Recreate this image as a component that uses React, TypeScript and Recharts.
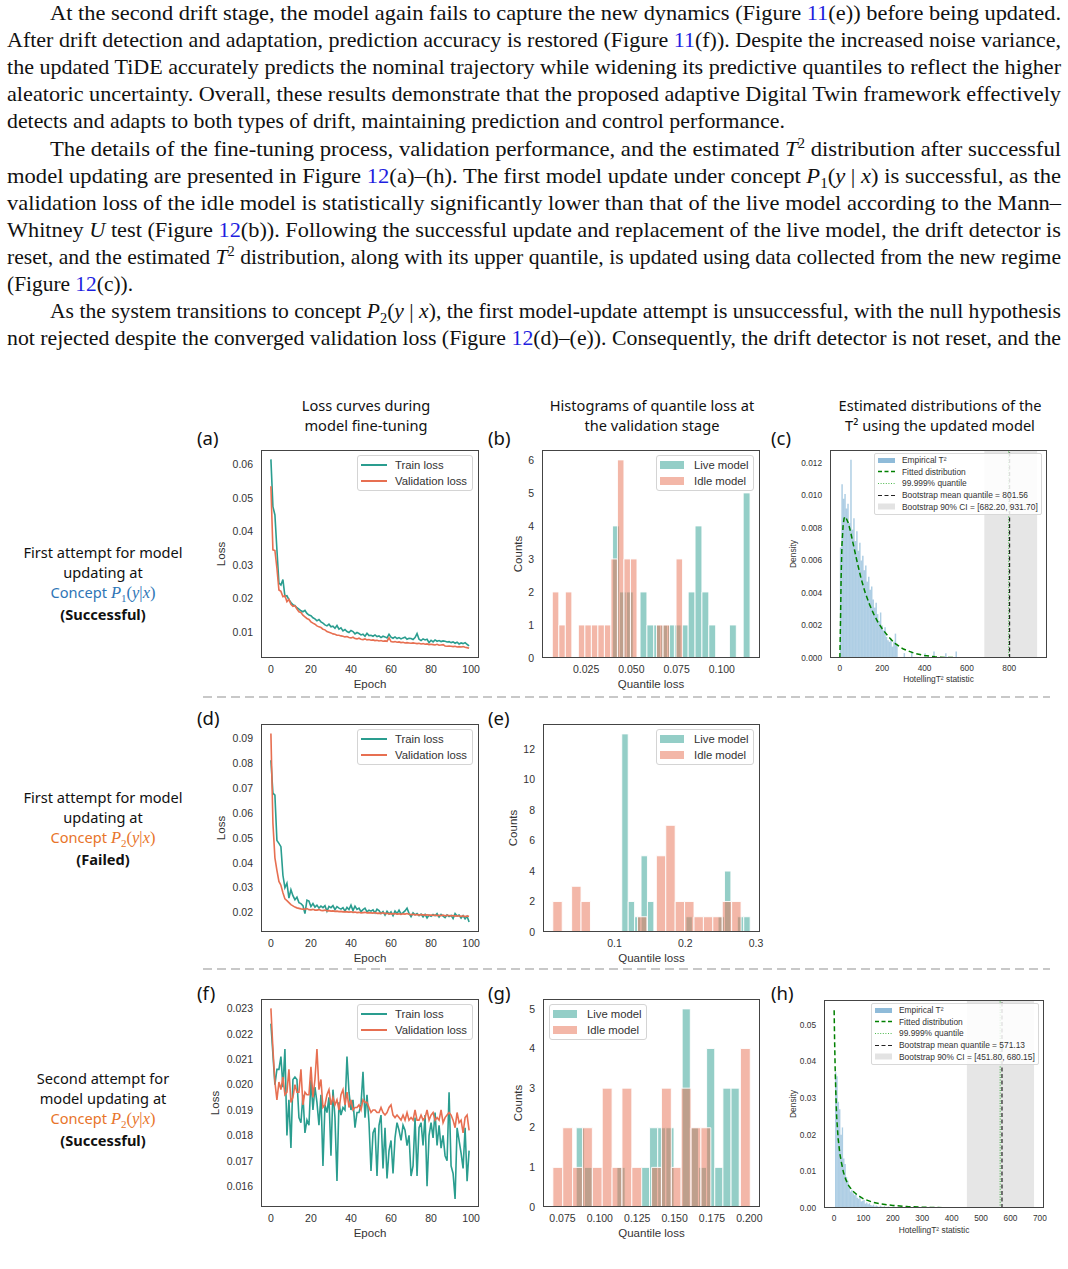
import React from "react";
import { ComposedChart, Line, XAxis, YAxis, ReferenceArea, ReferenceLine, Label } from "recharts";

const SANS = "'Liberation Sans', Arial, sans-serif";
const UI = "'Noto Sans', 'Open Sans', sans-serif";
const SERIF = "'Liberation Serif', 'Times New Roman', serif";
const TEAL = "#2a9d8f";
const ORANGE = "#e76f51";

const epochs = Array.from({ length: 100 }, (_, i) => i);

// (a) first update, concept P1
const trainA = [
  0.0615, 0.0474, 0.0449, 0.0345, 0.0246, 0.024, 0.0256, 0.0206, 0.0208, 0.0196,
  0.0188, 0.0181, 0.0178, 0.0172, 0.0168, 0.0163, 0.016, 0.0164, 0.0155, 0.015,
  0.0148, 0.0142, 0.0139, 0.0133, 0.0137, 0.013, 0.0126, 0.0121, 0.0118, 0.0123,
  0.0115, 0.0117, 0.0111, 0.0119, 0.0108, 0.0112, 0.0103, 0.0107, 0.0101, 0.0098,
  0.0104, 0.0101, 0.0094, 0.0098, 0.0095, 0.0091, 0.0093, 0.0087, 0.0096, 0.0089,
  0.009, 0.0087, 0.0091, 0.0086, 0.0088, 0.0083, 0.0087, 0.0085, 0.0082, 0.0093,
  0.0084, 0.0081, 0.0085, 0.008, 0.0083, 0.0079, 0.0082, 0.0084, 0.0078, 0.0081,
  0.008, 0.0077, 0.0083, 0.0095, 0.0078, 0.0074, 0.0079, 0.0076, 0.0078, 0.0068,
  0.0075, 0.007, 0.0076, 0.0072, 0.0074, 0.0071, 0.0073, 0.0072, 0.007, 0.0071,
  0.0068, 0.007, 0.0066, 0.0069, 0.0064, 0.0067, 0.0065, 0.0068, 0.0063, 0.0058,
];
const valA = [
  0.0535, 0.0345, 0.0343, 0.029, 0.0225, 0.0221, 0.0205, 0.0208, 0.019, 0.0197,
  0.0182, 0.0176, 0.0178, 0.0168, 0.016, 0.0158, 0.015, 0.0145, 0.014, 0.0137,
  0.013, 0.0126, 0.0123, 0.0118, 0.0115, 0.0113, 0.0108, 0.0106, 0.0101, 0.0099,
  0.0097, 0.0094, 0.0093, 0.009, 0.009, 0.0088, 0.0087, 0.0085, 0.0086, 0.0083,
  0.0082, 0.0084, 0.008, 0.0079, 0.0081, 0.0078, 0.0077, 0.0079, 0.0076, 0.0077,
  0.0075, 0.0076, 0.0074, 0.0075, 0.0073, 0.0074, 0.0072, 0.0073, 0.0072, 0.0082,
  0.0071, 0.007, 0.0071, 0.0069, 0.007, 0.0068, 0.0069, 0.0067, 0.0068, 0.0067,
  0.0066, 0.0067, 0.0066, 0.0065, 0.0066, 0.0064, 0.0065, 0.0063, 0.0064, 0.0062,
  0.0063, 0.0062, 0.0061, 0.0063, 0.006, 0.0061, 0.0062, 0.0058, 0.0057, 0.0058,
  0.0057, 0.0056, 0.0057, 0.0055, 0.0056, 0.0055, 0.0056, 0.0054, 0.0053, 0.0051,
];

// (d) first attempt, concept P2
const trainD = [
  0.0812, 0.068, 0.0672, 0.049, 0.0478, 0.0465, 0.035, 0.03, 0.0318, 0.0258,
  0.0292, 0.0268, 0.0252, 0.0262, 0.024, 0.0236, 0.0228, 0.0196, 0.025, 0.0246,
  0.0224, 0.0236, 0.0222, 0.023, 0.0218, 0.0226, 0.022, 0.0228, 0.0205, 0.0225,
  0.022, 0.0228, 0.0212, 0.0224, 0.0218, 0.0214, 0.022, 0.0206, 0.0221, 0.0212,
  0.023, 0.0208, 0.0226, 0.0213, 0.0218, 0.0204, 0.0212, 0.0218, 0.0203, 0.021,
  0.0206, 0.0211, 0.0199, 0.0214, 0.0208, 0.0196, 0.0204, 0.019, 0.0205, 0.0194,
  0.0203, 0.0188, 0.0206, 0.0196, 0.021, 0.0194, 0.02, 0.0207, 0.0218, 0.0197,
  0.0184, 0.0199, 0.0191, 0.0196, 0.0188, 0.0194, 0.0183, 0.0193, 0.0178, 0.019,
  0.0185, 0.0192, 0.0187, 0.0196, 0.0182, 0.0193, 0.0186, 0.018, 0.0191, 0.0184,
  0.0189, 0.0176, 0.0196, 0.0186, 0.019, 0.0178, 0.0188, 0.0175, 0.0185, 0.0162,
];
const valD = [
  0.092, 0.056, 0.042, 0.037, 0.0325, 0.031, 0.028, 0.0255, 0.0248, 0.024,
  0.0232, 0.0227, 0.0222, 0.0219, 0.0217, 0.0215, 0.0214, 0.0213, 0.0216, 0.0212,
  0.0211, 0.0213, 0.021, 0.021, 0.0212, 0.0209, 0.0208, 0.021, 0.0207, 0.0208,
  0.0206, 0.0207, 0.0205, 0.0206, 0.0204, 0.0205, 0.0203, 0.0204, 0.0203, 0.0202,
  0.0203, 0.0201, 0.0202, 0.02, 0.0201, 0.0199, 0.02, 0.0201, 0.0199, 0.02,
  0.0199, 0.0198, 0.02, 0.0197, 0.0198, 0.0197, 0.0199, 0.0196, 0.0197, 0.0195,
  0.0196, 0.0195, 0.0196, 0.0194, 0.0195, 0.0193, 0.0195, 0.0194, 0.0196, 0.0193,
  0.0192, 0.0193, 0.0191, 0.0192, 0.019, 0.0192, 0.0191, 0.019, 0.0191, 0.0189,
  0.019, 0.0189, 0.019, 0.0188, 0.0189, 0.0188, 0.019, 0.0187, 0.0189, 0.0188,
  0.0187, 0.0188, 0.0186, 0.0187, 0.0186, 0.0185, 0.0187, 0.0184, 0.0186, 0.0185,
];

// (f) second attempt, concept P2
const trainF = [
  0.0224, 0.0212, 0.02, 0.0206, 0.0206, 0.0211, 0.0199, 0.0214, 0.018, 0.0194,
  0.0175, 0.0202, 0.0203, 0.0202, 0.0187, 0.0185, 0.0196, 0.0181, 0.0186, 0.0184,
  0.0202, 0.019, 0.0199, 0.0193, 0.0184, 0.0196, 0.0168, 0.0192, 0.0189, 0.0195,
  0.0172, 0.0198, 0.0187, 0.0162, 0.0193, 0.0188, 0.0191, 0.019, 0.0211, 0.0197,
  0.019, 0.0194, 0.0183, 0.0189, 0.0189, 0.0192, 0.0205, 0.0187, 0.0196, 0.0185,
  0.0166, 0.0181, 0.0183, 0.0164, 0.0184, 0.0188, 0.0167, 0.0183, 0.0163, 0.0174,
  0.0178, 0.0165, 0.0179, 0.0185, 0.0182, 0.0178, 0.0184, 0.0182, 0.0176, 0.018,
  0.0164, 0.0168, 0.0187, 0.0164, 0.0183, 0.0185, 0.0176, 0.0188, 0.016, 0.018,
  0.0185, 0.0179, 0.0189, 0.0176, 0.0184, 0.0175, 0.018, 0.0172, 0.017, 0.0197,
  0.0168, 0.0165, 0.0155, 0.0183, 0.0178, 0.0173, 0.0167, 0.0183, 0.0162, 0.0174,
];
const valF = [
  0.023, 0.0214, 0.0201, 0.0194, 0.0201, 0.0198, 0.0203, 0.0196, 0.0197, 0.0206,
  0.0193, 0.0195, 0.02, 0.0197, 0.0197, 0.0206, 0.0192, 0.0197, 0.0196, 0.0196,
  0.0207, 0.0195, 0.0202, 0.0214, 0.0198, 0.0202, 0.0191, 0.0192, 0.0196, 0.0198,
  0.0192, 0.0195, 0.0192, 0.0194, 0.019, 0.0196, 0.0198, 0.0192, 0.0197, 0.0191,
  0.0194, 0.019, 0.0191, 0.0191, 0.0192, 0.019, 0.0194, 0.0193, 0.0193, 0.0191,
  0.0189, 0.019, 0.019, 0.0189, 0.0189, 0.0191, 0.0189, 0.0188, 0.0189, 0.0191,
  0.0192, 0.0188, 0.0187, 0.0188, 0.0187, 0.0186, 0.0188, 0.0186, 0.0189, 0.0186,
  0.0187, 0.0186, 0.019, 0.0186, 0.0186, 0.0188, 0.0186, 0.0187, 0.019, 0.0186,
  0.0188, 0.0189, 0.0186, 0.0187, 0.0186, 0.019, 0.0185, 0.0187, 0.0188, 0.0189,
  0.0188, 0.0186, 0.0183, 0.0189, 0.0185, 0.0186, 0.0181, 0.0187, 0.0188, 0.0182,
];

// quantile-loss histograms: first bin edge, bin width, counts
const liveB = { start: 0.0396, width: 0.0038, counts: [4, 2, 2, 0, 2, 1, 1, 1, 1, 1, 1, 2, 4, 2, 1, 0, 0, 1, 0, 5] };
const idleB = { start: 0.0063, width: 0.0036, counts: [2, 1, 2, 0, 1, 1, 1, 1, 1, 3, 6, 3, 3, 0, 0, 0, 1, 1, 0, 3] };
const liveE = { start: 0.1103, width: 0.00907, counts: [13, 2, 1, 5, 2, 0, 0, 0, 0, 0, 1, 0, 0, 0, 0, 1, 4, 0, 1, 1] };
const idleE = { start: 0.01285, width: 0.0133, counts: [2, 0, 3, 2, 0, 0, 0, 0, 0, 1, 0, 5, 7, 2, 2, 1, 1, 1, 2, 2] };
const liveG = { start: 0.0842, width: 0.00545, counts: [2, 1, 0, 0, 0, 1, 0, 0, 1, 2, 2, 2, 0, 5, 2, 1, 4, 1, 3, 3] };
const idleG = { start: 0.0686, width: 0.0066, counts: [1, 2, 1, 2, 1, 3, 1, 3, 1, 0, 1, 3, 1, 3, 2, 2, 0, 0, 0, 4] };

// T2 density histograms
const tsqC = {
  start: 0,
  width: 7,
  counts: [
    0.0068, 0.0107, 0.0098, 0.0101, 0.0092, 0.0095, 0.0083, 0.0122, 0.0079, 0.0086,
    0.0072, 0.0078, 0.0066, 0.0071, 0.006, 0.0063, 0.0054, 0.0057, 0.0047, 0.005,
    0.0042, 0.0044, 0.0036, 0.0031, 0.0034, 0.0027, 0.0023, 0.0028, 0.002, 0.0017,
    0.0019, 0.0013, 0.0011, 0.001, 0.0012, 0.0007, 0.001, 0.0015, 0.0009, 0,
    0, 0, 0, 0.0003, 0, 0, 0, 0, 0.0004, 0,
    0, 0, 0, 0, 0, 0, 0, 0.0003, 0, 0,
    0, 0, 0, 0.0004, 0, 0, 0, 0, 0, 0,
    0, 0.0003, 0, 0, 0, 0, 0, 0, 0.0004, 0,
  ],
};
const tsqH = {
  start: 3.4,
  width: 4.6,
  counts: [
    0.0371, 0.036, 0.029, 0.027, 0.02, 0.022, 0.0135, 0.012, 0.0085, 0.0075,
    0.006, 0.0045, 0.005, 0.004, 0.0035, 0.0038, 0.0028, 0.0025, 0.003, 0.0018,
    0.002, 0.0022, 0.0012, 0.0015, 0.001, 0.0013, 0.0008, 0.0006, 0.0009, 0.0004,
    0.0007, 0.0005, 0.0003, 0.0006, 0.0004, 0.0002, 0.0005, 0.0003, 0, 0.0004,
    0, 0.0003, 0, 0.0005, 0, 0, 0.0003, 0, 0.0004, 0,
    0, 0.0003, 0, 0, 0.0004, 0, 0, 0, 0.0003, 0,
    0, 0, 0.0003, 0, 0, 0, 0.0002, 0, 0, 0,
    0.0003, 0, 0, 0, 0, 0.0002, 0, 0, 0, 0,
    0, 0.0002, 0, 0, 0, 0.0002,
  ],
};

// fitted densities
const fitCx = [0, 3, 6, 10, 15, 20, 25, 30, 40, 50, 60, 80, 100, 120, 140, 160, 180, 200, 230, 260, 300, 350, 400, 450, 500, 600, 680];
const fitCy = [0, 0.0022, 0.005, 0.007, 0.0081, 0.0086, 0.0087, 0.0086, 0.0083, 0.0078, 0.0072, 0.006, 0.0049, 0.004, 0.0033, 0.0027, 0.0022, 0.0018, 0.0013, 0.0009, 0.00055, 0.0003, 0.00015, 0.00007, 0.00003, 0.00001, 0];
const fitHx = [0.5, 2, 4, 6, 9, 14, 20, 25, 32, 40, 50, 63, 80, 100, 130, 160, 200, 250, 300, 350, 420];
const fitHy = [0.054, 0.046, 0.038, 0.032, 0.025, 0.019, 0.0148, 0.0125, 0.0098, 0.0078, 0.0061, 0.0047, 0.0035, 0.0025, 0.0016, 0.0011, 0.0007, 0.0004, 0.00022, 0.00012, 0.00005];

const statsC = { quantile: 797, mean: 801.56, ciLow: 682.2, ciHigh: 931.7 };
const statsH = { quantile: 565, mean: 571.13, ciLow: 451.8, ciHigh: 680.15 };

const lossLegend = ["Train loss", "Validation loss"];
const histLegend = ["Live model", "Idle model"];
const tsqLegendC = ["Empirical T²", "Fitted distribution", "99.999% quantile", "Bootstrap mean quantile = 801.56", "Bootstrap 90% CI = [682.20, 931.70]"];
const tsqLegendH = ["Empirical T²", "Fitted distribution", "99.999% quantile", "Bootstrap mean quantile = 571.13", "Bootstrap 90% CI = [451.80, 680.15]"];

type Box = { x: number; y: number; w: number; h: number };
type Hist = { start: number; width: number; counts: number[] };

const lossRows = (tr: number[], va: number[]) => epochs.map((e, i) => ({ x: e, train: tr[i], val: va[i] }));
const curveRows = (xs: number[], ys: number[]) => xs.map((x, i) => ({ x, y: ys[i] }));

function bars(h: Hist, color: string, opacity: number, sw: number, key: string) {
  return h.counts.map((c, i) =>
    c > 0 ? (
      <ReferenceArea
        key={key + i}
        x1={h.start + i * h.width}
        x2={h.start + (i + 1) * h.width}
        y1={0}
        y2={c}
        fill={color}
        fillOpacity={opacity}
        stroke={sw > 0 ? "#fff" : "none"}
        strokeWidth={sw}
        strokeOpacity={1}
        ifOverflow="visible"
      />
    ) : null
  );
}

function Plot(props: any) {
  const { box, data, xDomain, yDomain, xTicks, yTicks, xFmt, yFmt, fs, xLabel, yLabel, xLabelY, yLabelX, xMargin, children } = props;
  const yw = 60;
  const xh = 40;
  const pad = 6;
  const tick = { fontSize: fs, fill: "#333", fontFamily: SANS };
  const lab = fs > 9 ? 11.5 : 8.4;
  return (
    <div style={{ position: "absolute", left: box.x - yw, top: box.y - pad }}>
      <ComposedChart width={box.w + yw + pad} height={box.h + pad + xh} data={data} margin={{ top: pad, right: pad, bottom: 0, left: 0 }}>
        <XAxis type="number" dataKey="x" domain={xDomain} ticks={xTicks} tickFormatter={xFmt} allowDataOverflow interval={0}
          axisLine={false} tickLine={false} tickSize={0} tickMargin={xMargin} height={xh} tick={tick}>
          <Label value={xLabel} position="center" dy={xLabelY - (box.y + box.h + xh / 2)} fontSize={lab} fill="#333" fontFamily={SANS} />
        </XAxis>
        <YAxis type="number" domain={yDomain} ticks={yTicks} tickFormatter={yFmt} allowDataOverflow interval={0}
          axisLine={false} tickLine={false} tickSize={0} tickMargin={8} width={yw} tick={tick}>
          <Label value={yLabel} angle={-90} position="center" dx={yLabelX - (box.x - yw / 2)} fontSize={lab} fill="#333" fontFamily={SANS} />
        </YAxis>
        {children}
      </ComposedChart>
      <div style={{ position: "absolute", left: yw, top: pad, width: box.w, height: box.h, border: "1.3px solid #444", boxSizing: "border-box", pointerEvents: "none" }} />
    </div>
  );
}

function LossLegend({ box }: { box: Box }) {
  const colors = [TEAL, ORANGE];
  return (
    <div style={{ position: "absolute", left: box.x + box.w - 122, top: box.y + 5, width: 116, height: 36, border: "1px solid #d4d4d4", borderRadius: 3, background: "rgba(255,255,255,0.85)", boxSizing: "border-box", fontFamily: SANS, fontSize: 11.3, color: "#333" }}>
      {lossLegend.map((t, i) => (
        <div key={t} style={{ position: "absolute", left: 3, top: 1 + i * 16, height: 16, display: "flex", alignItems: "center", whiteSpace: "nowrap" }}>
          <svg width={26} height={4}><line x1={0} y1={2} x2={26} y2={2} stroke={colors[i]} strokeWidth={2} /></svg>
          <span style={{ marginLeft: 8 }}>{t}</span>
        </div>
      ))}
    </div>
  );
}

function HistLegend({ box, left }: { box: Box; left?: boolean }) {
  const colors = [TEAL, ORANGE];
  const x = left ? box.x + 6 : box.x + box.w - 104;
  return (
    <div style={{ position: "absolute", left: x, top: box.y + 5, width: 98, height: 36, border: "1px solid #d4d4d4", borderRadius: 3, background: "rgba(255,255,255,0.85)", boxSizing: "border-box", fontFamily: SANS, fontSize: 11.3, color: "#333" }}>
      {histLegend.map((t, i) => (
        <div key={t} style={{ position: "absolute", left: 3, top: 1 + i * 16, height: 16, display: "flex", alignItems: "center", whiteSpace: "nowrap" }}>
          <svg width={24} height={8}><rect x={0} y={0} width={24} height={8} fill={colors[i]} fillOpacity={0.5} /></svg>
          <span style={{ marginLeft: 10 }}>{t}</span>
        </div>
      ))}
    </div>
  );
}

function TsqLegend({ box, labels }: { box: Box; labels: string[] }) {
  const swatch = (i: number) => {
    if (i === 0) return <rect x={0} y={2} width={17} height={5} fill="#1f77b4" fillOpacity={0.5} />;
    if (i === 1) return <line x1={0} y1={4.5} x2={17} y2={4.5} stroke="#008000" strokeWidth={1.3} strokeDasharray="4 2.5" />;
    if (i === 2) return <line x1={0} y1={4.5} x2={17} y2={4.5} stroke="#4cb84c" strokeWidth={1.1} strokeDasharray="1 1.6" />;
    if (i === 3) return <line x1={0} y1={4.5} x2={17} y2={4.5} stroke="#222" strokeWidth={1.2} strokeDasharray="4 2.5" />;
    return <rect x={0} y={1.5} width={17} height={6} fill="#808080" fillOpacity={0.22} />;
  };
  return (
    <div style={{ position: "absolute", left: box.x + box.w - 173, top: box.y + 3, width: 168, height: 62, border: "1px solid #d8d8d8", borderRadius: 2, background: "rgba(255,255,255,0.85)", boxSizing: "border-box", fontFamily: SANS, fontSize: 8.4, color: "#333" }}>
      {labels.map((t, i) => (
        <div key={t} style={{ position: "absolute", left: 3, top: 0.5 + i * 11.6, height: 11.6, display: "flex", alignItems: "center", whiteSpace: "nowrap" }}>
          <svg width={17} height={9}>{swatch(i)}</svg>
          <span style={{ marginLeft: 7 }}>{t}</span>
        </div>
      ))}
    </div>
  );
}

type Seg = { t: string; it?: boolean; sup?: boolean; sub?: boolean; link?: boolean };
const paraLines: { x: number; end: number; segs: Seg[] }[] = [
  { x: 50, end: 1061, segs: [{ t: "At the second drift stage, the model again fails to capture the new dynamics (Figure " }, { t: "11", link: true }, { t: "(e)) before being updated." }] },
  { x: 7, end: 1061, segs: [{ t: "After drift detection and adaptation, prediction accuracy is restored (Figure " }, { t: "11", link: true }, { t: "(f)).  Despite the increased noise variance," }] },
  { x: 7, end: 1061, segs: [{ t: "the updated TiDE accurately predicts the nominal trajectory while widening its predictive quantiles to reflect the higher" }] },
  { x: 7, end: 1061, segs: [{ t: "aleatoric uncertainty.  Overall, these results demonstrate that the proposed adaptive Digital Twin framework effectively" }] },
  { x: 7, end: 785, segs: [{ t: "detects and adapts to both types of drift, maintaining prediction and control performance." }] },
  { x: 50, end: 1061, segs: [{ t: "The details of the fine-tuning process, validation performance, and the estimated " }, { t: "T", it: true }, { t: "2", sup: true }, { t: " distribution after successful" }] },
  { x: 7, end: 1061, segs: [{ t: "model updating are presented in Figure " }, { t: "12", link: true }, { t: "(a)–(h).  The first model update under concept " }, { t: "P", it: true }, { t: "1", sub: true }, { t: "(" }, { t: "y", it: true }, { t: " | " }, { t: "x", it: true }, { t: ") is successful, as the" }] },
  { x: 7, end: 1061, segs: [{ t: "validation loss of the idle model is statistically significantly lower than that of the live model according to the Mann–" }] },
  { x: 7, end: 1061, segs: [{ t: "Whitney " }, { t: "U", it: true }, { t: " test (Figure " }, { t: "12", link: true }, { t: "(b)).  Following the successful update and replacement of the live model, the drift detector is" }] },
  { x: 7, end: 1061, segs: [{ t: "reset, and the estimated " }, { t: "T", it: true }, { t: "2", sup: true }, { t: " distribution, along with its upper quantile, is updated using data collected from the new regime" }] },
  { x: 7, end: 133, segs: [{ t: "(Figure " }, { t: "12", link: true }, { t: "(c))." }] },
  { x: 50, end: 1061, segs: [{ t: "As the system transitions to concept " }, { t: "P", it: true }, { t: "2", sub: true }, { t: "(" }, { t: "y", it: true }, { t: " | " }, { t: "x", it: true }, { t: "), the first model-update attempt is unsuccessful, with the null hypothesis" }] },
  { x: 7, end: 1061, segs: [{ t: "not rejected despite the converged validation loss (Figure " }, { t: "12", link: true }, { t: "(d)–(e)).  Consequently, the drift detector is not reset, and the" }] },
];

function renderSegs(segs: Seg[]) {
  let cur = 0;
  return segs.map((s, i) => {
    const target = s.sup ? -8 : s.sub ? 5 : 0;
    const dy = target - cur;
    cur = target;
    return (
      <tspan key={i} dy={dy} fontStyle={s.it ? "italic" : undefined} fontSize={s.sup || s.sub ? 14 : undefined} fill={s.link ? "#1f1fe0" : undefined}>
        {s.t}
      </tspan>
    );
  });
}

function Concept({ n, color }: { n: string; color: string }) {
  return (
    <span style={{ color }}>
      Concept{" "}
      <span style={{ fontFamily: SERIF, fontSize: 16.5 }}>
        <i>P</i>
        <span style={{ fontSize: 11, position: "relative", top: 4 }}>{n}</span>(<i>y</i>|<i>x</i>)
      </span>
    </span>
  );
}

function RowLabel({ top, lines, n, color, status }: { top: number; lines: string[]; n: string; color: string; status: string }) {
  return (
    <div style={{ position: "absolute", left: 3, width: 200, top, textAlign: "center", fontFamily: UI, fontSize: 14.6, lineHeight: "20px", color: "#111" }}>
      <div>{lines[0]}</div>
      <div>{lines[1]}</div>
      <div><Concept n={n} color={color} /></div>
      <div style={{ fontWeight: 700 }}>{status}</div>
    </div>
  );
}

const boxA: Box = { x: 261, y: 450, w: 218, h: 208 };
const boxB: Box = { x: 542, y: 450, w: 218, h: 208 };
const boxC: Box = { x: 830, y: 450, w: 217, h: 208 };
const boxD: Box = { x: 261, y: 724, w: 218, h: 208 };
const boxE: Box = { x: 543, y: 724, w: 217, h: 208 };
const boxF: Box = { x: 261, y: 999, w: 218, h: 208 };
const boxG: Box = { x: 543, y: 999, w: 217, h: 208 };
const boxH: Box = { x: 824, y: 1000, w: 220, h: 208 };

const epochTicks = [0, 20, 40, 60, 80, 100];
const f2 = (v: number) => v.toFixed(2);
const f3 = (v: number) => v.toFixed(3);
const f1 = (v: number) => v.toFixed(1);
const f0 = (v: number) => String(v);

function LossPlot({ box, tr, va, yDomain, yTicks, yFmt, yLabelX, xLabelY }: any) {
  return (
    <>
      <Plot box={box} data={lossRows(tr, va)} xDomain={[-4.95, 103.95]} yDomain={yDomain} xTicks={epochTicks} yTicks={yTicks}
        xFmt={f0} yFmt={yFmt} fs={10.5} xMargin={8} xLabel="Epoch" yLabel="Loss" xLabelY={xLabelY} yLabelX={yLabelX}>
        <Line dataKey="train" stroke={TEAL} strokeWidth={1.6} dot={false} isAnimationActive={false} />
        <Line dataKey="val" stroke={ORANGE} strokeWidth={1.6} dot={false} isAnimationActive={false} />
      </Plot>
      <LossLegend box={box} />
    </>
  );
}

function QPlot({ box, live, idle, xDomain, yDomain, xTicks, yTicks, xFmt, yLabelX, xLabelY, legendLeft }: any) {
  return (
    <>
      <Plot box={box} data={[]} xDomain={xDomain} yDomain={yDomain} xTicks={xTicks} yTicks={yTicks}
        xFmt={xFmt} yFmt={f0} fs={10.5} xMargin={8} xLabel="Quantile loss" yLabel="Counts" xLabelY={xLabelY} yLabelX={yLabelX}>
        {bars(live, TEAL, 0.5, 0.9, "l")}
        {bars(idle, ORANGE, 0.5, 0.9, "i")}
      </Plot>
      <HistLegend box={box} left={legendLeft} />
    </>
  );
}

function TPlot({ box, hist, fx, fy, stats, xDomain, yDomain, xTicks, yTicks, yFmt, yLabelX, xLabelY, labels }: any) {
  return (
    <>
      <Plot box={box} data={[]} xDomain={xDomain} yDomain={yDomain} xTicks={xTicks} yTicks={yTicks}
        xFmt={f0} yFmt={yFmt} fs={8.3} xMargin={7} xLabel="HotellingT² statistic" yLabel="Density" xLabelY={xLabelY} yLabelX={yLabelX}>
        {bars(hist, "#1f77b4", 0.36, 0, "t")}
        <ReferenceArea x1={stats.ciLow} x2={stats.ciHigh} fill="#808080" fillOpacity={0.2} stroke="none" ifOverflow="visible" />
        <Line data={curveRows(fx, fy)} dataKey="y" stroke="#008000" strokeWidth={1.5} strokeDasharray="5 3" dot={false} isAnimationActive={false} />
        <ReferenceLine x={stats.quantile} stroke="#4cb84c" strokeWidth={1.2} strokeDasharray="1 1.6" />
        <ReferenceLine x={stats.mean} stroke="#222" strokeWidth={1.2} strokeDasharray="4 2.5" />
      </Plot>
      <TsqLegend box={box} labels={labels} />
    </>
  );
}

const panelLetter = (t: string, x: number, y: number) => (
  <div key={t} style={{ position: "absolute", left: x, top: y - 13, fontFamily: UI, fontSize: 18.5, lineHeight: "26px", color: "#111" }}>{t}</div>
);

const header = (l1: string, l2: React.ReactNode, cx: number) => (
  <div style={{ position: "absolute", left: cx - 150, width: 300, top: 395, textAlign: "center", fontFamily: UI, fontSize: 14.6, lineHeight: "20px", color: "#111" }}>
    <div>{l1}</div>
    <div>{l2}</div>
  </div>
);

export default function App() {
  return (
    <div style={{ position: "absolute", left: 0, top: 0, width: 1068, height: 1269, background: "#fff", overflow: "hidden" }}>
      <svg width={1068} height={360} style={{ position: "absolute", left: 0, top: 0 }}>
        {paraLines.map((ln, i) => (
          <text key={i} x={ln.x} y={20 + i * 27.1} textLength={ln.end - ln.x} lengthAdjust="spacingAndGlyphs" fontFamily={SERIF} fontSize={21} fill="#111">
            {renderSegs(ln.segs)}
          </text>
        ))}
      </svg>

      {header("Loss curves during", "model fine-tuning", 366)}
      {header("Histograms of quantile loss at", "the validation stage", 652)}
      {header("Estimated distributions of the", <span>T² using the updated model</span>, 940)}

      <RowLabel top={542} lines={["First attempt for model", "updating at"]} n="1" color="#2e75b6" status="(Successful)" />
      <RowLabel top={787} lines={["First attempt for model", "updating at"]} n="2" color="#e8742a" status="(Failed)" />
      <RowLabel top={1068} lines={["Second attempt for", "model updating at"]} n="2" color="#e8742a" status="(Successful)" />

      {panelLetter("(a)", 197, 438)}
      {panelLetter("(b)", 488, 438)}
      {panelLetter("(c)", 771, 438)}
      {panelLetter("(d)", 197, 718)}
      {panelLetter("(e)", 488, 718)}
      {panelLetter("(f)", 197, 993)}
      {panelLetter("(g)", 488, 993)}
      {panelLetter("(h)", 771, 993)}

      <svg width={1068} height={1269} style={{ position: "absolute", left: 0, top: 0, pointerEvents: "none" }}>
        <line x1={203} y1={697} x2={1050} y2={697} stroke="#c8c8c8" strokeWidth={2} strokeDasharray="9 5" />
        <line x1={203} y1={969} x2={1050} y2={969} stroke="#c8c8c8" strokeWidth={2} strokeDasharray="9 5" />
      </svg>

      <LossPlot box={boxA} tr={trainA} va={valA} yDomain={[0.0022, 0.0643]} yTicks={[0.01, 0.02, 0.03, 0.04, 0.05, 0.06]} yFmt={f2} yLabelX={221} xLabelY={684} />
      <LossPlot box={boxD} tr={trainD} va={valD} yDomain={[0.0122, 0.0958]} yTicks={[0.02, 0.03, 0.04, 0.05, 0.06, 0.07, 0.08, 0.09]} yFmt={f2} yLabelX={221} xLabelY={958} />
      <LossPlot box={boxF} tr={trainF} va={valF} yDomain={[0.01518, 0.02337]} yTicks={[0.016, 0.017, 0.018, 0.019, 0.02, 0.021, 0.022, 0.023]} yFmt={f3} yLabelX={215} xLabelY={1233} />

      <QPlot box={boxB} live={liveB} idle={idleB} xDomain={[0.0006, 0.1211]} yDomain={[0, 6.3]} xTicks={[0.025, 0.05, 0.075, 0.1]} yTicks={[0, 1, 2, 3, 4, 5, 6]} xFmt={f3} yLabelX={518} xLabelY={684} />
      <QPlot box={boxE} live={liveE} idle={idleE} xDomain={[-0.001, 0.3056]} yDomain={[0, 13.65]} xTicks={[0.1, 0.2, 0.3]} yTicks={[0, 2, 4, 6, 8, 10, 12]} xFmt={f1} yLabelX={513} xLabelY={958} />
      <QPlot box={boxG} live={liveG} idle={idleG} xDomain={[0.062, 0.2071]} yDomain={[0, 5.25]} xTicks={[0.075, 0.1, 0.125, 0.15, 0.175, 0.2]} yTicks={[0, 1, 2, 3, 4, 5]} xFmt={f3} yLabelX={518} xLabelY={1233} legendLeft />

      <TPlot box={boxC} hist={tsqC} fx={fitCx} fy={fitCy} stats={statsC} xDomain={[-46.6, 978.3]} yDomain={[0, 0.0128]} xTicks={[0, 200, 400, 600, 800]} yTicks={[0, 0.002, 0.004, 0.006, 0.008, 0.01, 0.012]} yFmt={f3} yLabelX={793} xLabelY={679} labels={tsqLegendC} />
      <TPlot box={boxH} hist={tsqH} fx={fitHx} fy={fitHy} stats={statsH} xDomain={[-34, 714]} yDomain={[0, 0.0568]} xTicks={[0, 100, 200, 300, 400, 500, 600, 700]} yTicks={[0, 0.01, 0.02, 0.03, 0.04, 0.05]} yFmt={f2} yLabelX={793} xLabelY={1230} labels={tsqLegendH} />
    </div>
  );
}
